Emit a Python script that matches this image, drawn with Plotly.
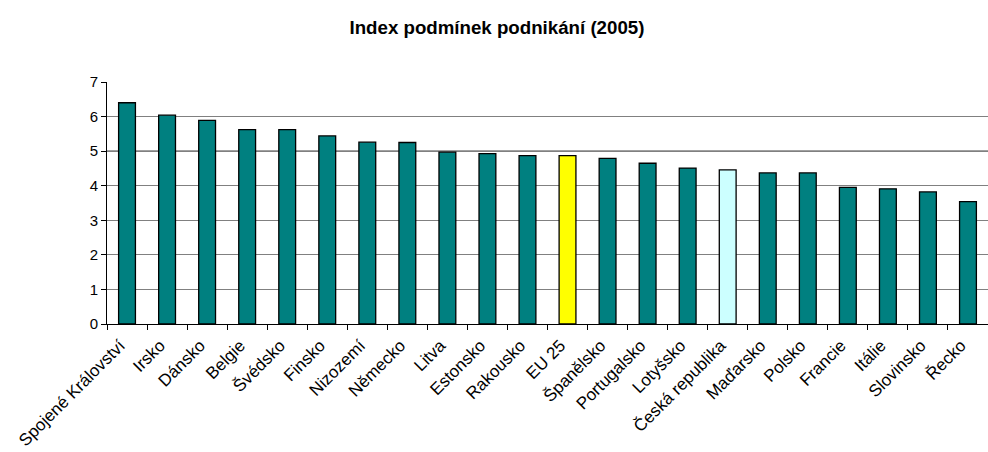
import plotly.graph_objects as go

categories = ["Spojené Království", "Irsko", "Dánsko", "Belgie", "Švédsko", "Finsko",
              "Nizozemí", "Německo", "Litva", "Estonsko", "Rakousko", "EU 25",
              "Španělsko", "Portugalsko", "Lotyšsko", "Česká republika", "Maďarsko",
              "Polsko", "Francie", "Itálie", "Slovinsko", "Řecko"]
values = [6.40, 6.04, 5.89, 5.62, 5.62, 5.44, 5.26, 5.25, 4.97, 4.93, 4.87, 4.87,
          4.79, 4.65, 4.51, 4.46, 4.37, 4.37, 3.95, 3.91, 3.82, 3.54]
# bar colours: highlight EU 25 and Česká republika
highlight = {"EU 25": "#FFFF00", "Česká republika": "#CCFFFF"}
colors = [highlight.get(c, "#008080") for c in categories]
y_ticks = [0, 1, 2, 3, 4, 5, 6, 7]

fig = go.Figure()
fig.add_trace(go.Bar(
    x=categories, y=values,
    marker=dict(color=colors, line=dict(color="#000000", width=1.3)),
    width=0.42,
))

font_family = "Liberation Sans, Arial, sans-serif"
fig.update_layout(
    width=988, height=452,
    margin=dict(l=107, r=0, t=82, b=128),
    paper_bgcolor="white", plot_bgcolor="white",
    title=dict(text="<b>Index podmínek podnikání (2005)</b>",
               x=0.503, xanchor="center", y=0.94, yanchor="middle",
               font=dict(family=font_family, size=18.7, color="black")),
    font=dict(family=font_family, size=15, color="black"),
    showlegend=False,
    xaxis=dict(
        type="category",
        tickangle=-45,
        tickson="boundaries",
        ticks="outside", ticklen=5, tickcolor="black",
        showline=True, linecolor="black", linewidth=1,
        showgrid=False,
        automargin=False,
        ticklabelshift=-7, ticklabelstandoff=4,
        tickfont=dict(family=font_family, size=17, color="black"),
    ),
    yaxis=dict(
        range=[0, 7],
        tickvals=y_ticks,
        ticks="outside", ticklen=5, tickcolor="black",
        showline=True, linecolor="black", linewidth=1,
        showgrid=True, gridcolor="#808080", gridwidth=1,
        zeroline=False,
        automargin=False,
        tickfont=dict(family=font_family, size=15, color="black"),
    ),
)
fig.add_shape(type="line", xref="paper", yref="y", x0=0, x1=1, y0=5, y1=5,
              line=dict(color="black", width=1), layer="below")

fig.write_html("out.html", config={"displayModeBar": False},
               post_script="document.body.style.margin='0';document.body.style.overflow='hidden';")
